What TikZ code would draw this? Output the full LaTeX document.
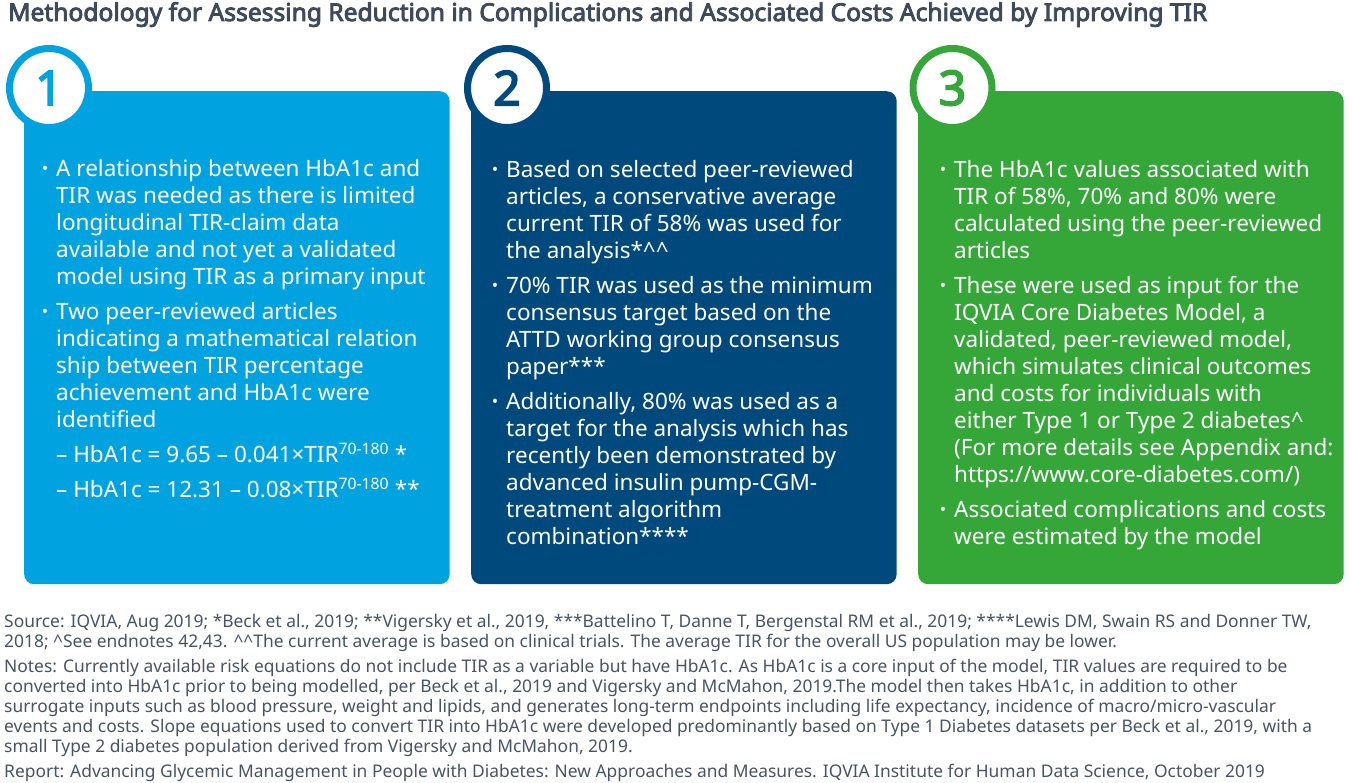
\documentclass[tikz,border=0pt]{standalone}
\usepackage{fontspec}
\setmainfont{Noto Sans}
\newfontfamily\heavyfont{Noto Sans}[FakeBold=3.5]
\usetikzlibrary{positioning}
\definecolor{tirblue}{RGB}{0,163,224}
\definecolor{tirnavy}{RGB}{0,73,124}
\definecolor{tirgreen}{RGB}{52,167,56}
\definecolor{titlegray}{RGB}{62,74,92}
\definecolor{notegray}{RGB}{72,84,102}
\newcommand{\bul}{\llap{\raisebox{2pt}{\fontsize{17}{17}\selectfont\textbullet}\hspace{8pt}}}

\begin{document}
\begin{tikzpicture}[x=1pt, y=-1pt,
  panelbox/.style={rounded corners=10pt, inner sep=0pt, anchor=north west, minimum width=425.5pt, minimum height=493pt},
  stepring/.style={circle, draw=#1, line width=7pt, fill=white, minimum size=79pt, inner sep=0pt, text=#1, font=\heavyfont\fontsize{48}{48}\selectfont},
  paneltext/.style={anchor=base west, align=left, inner sep=0pt, text=white, font=\fontsize{22.5}{27}\selectfont},
  foot/.style={anchor=base west, align=left, inner sep=0pt, text=notegray, font=\fontsize{17.4}{20}\selectfont}]
  \useasboundingbox (0,0) rectangle (1352,783);
  \fill[white] (0,0) rectangle (1352,783);

  % Title
  \node[anchor=base west, inner sep=0pt, text=titlegray, font=\heavyfont\fontsize{24.6}{24}\selectfont] (title) at (8,21) {Methodology for Assessing Reduction in Complications and Associated Costs Achieved by Improving TIR};

  % Three panels
  \node[panelbox, fill=tirblue] (p1) at (24,91) {};
  \node[panelbox, fill=tirnavy] (p2) at (471,91) {};
  \node[panelbox, fill=tirgreen] (p3) at (918,91) {};

  % Step numbers
  \node[stepring=tirblue] (n1) at (49,88) {1};
  \node[stepring=tirnavy] (n2) at (507,88) {2};
  \node[stepring=tirgreen] (n3) at (952.5,88) {3};

  % Panel 1 (anchored on its last line)
  \node[paneltext] (t1) at (56,497) {\bul A relationship between HbA1c and\\
    TIR was needed as there is limited\\
    longitudinal TIR-claim data\\
    available and not yet a validated\\
    model using TIR as a primary input\\[8pt]
    \bul Two peer-reviewed articles\\
    indicating a mathematical relation\\
    ship between TIR percentage\\
    achievement and HbA1c were\\
    identified\\[8pt]
    – HbA1c = 9.65 – 0.041×TIR\textsuperscript{70-180} *\\[7.5pt]
    – HbA1c = 12.31 – 0.08×TIR\textsuperscript{70-180} **};

  % Panel 2
  \node[paneltext] (t2) at (506,544) {\bul Based on selected peer-reviewed\\
    articles, a conservative average\\
    current TIR of 58\% was used for\\
    the analysis*\textasciicircum\textasciicircum\\[8pt]
    \bul 70\% TIR was used as the minimum\\
    consensus target based on the\\
    ATTD working group consensus\\
    paper***\\[8pt]
    \bul Additionally, 80\% was used as a\\
    target for the analysis which has\\
    recently been demonstrated by\\
    advanced insulin pump-CGM-\\
    treatment algorithm\\
    combination****};

  % Panel 3
  \node[paneltext] (t3) at (954,544) {\bul The HbA1c values associated with\\
    TIR of 58\%, 70\% and 80\% were\\
    calculated using the peer-reviewed\\
    articles\\[8pt]
    \bul These were used as input for the\\
    IQVIA Core Diabetes Model, a\\
    validated, peer-reviewed model,\\
    which simulates clinical outcomes\\
    and costs for individuals with\\
    either Type 1 or Type 2 diabetes\textasciicircum\\
    (For more details see Appendix and:\\
    https://www.core-diabetes.com/)\\[8pt]
    \bul Associated complications and costs\\
    were estimated by the model};

  % Sources, notes, report
  \node[foot] (src) at (4,647) {Source: IQVIA, Aug 2019; *Beck et al., 2019; **Vigersky et al., 2019, ***Battelino T, Danne T, Bergenstal RM et al., 2019; ****Lewis DM, Swain RS and Donner TW,\\
    2018; \textasciicircum See endnotes 42,43. \textasciicircum\textasciicircum The current average is based on clinical trials. The average TIR for the overall US population may be lower.};
  \node[foot] (notes) at (4,752) {Notes: Currently available risk equations do not include TIR as a variable but have HbA1c. As HbA1c is a core input of the model, TIR values are required to be\\
    converted into HbA1c prior to being modelled, per Beck et al., 2019 and Vigersky and McMahon, 2019.The model then takes HbA1c, in addition to other\\
    surrogate inputs such as blood pressure, weight and lipids, and generates long-term endpoints including life expectancy, incidence of macro/micro-vascular\\
    events and costs. Slope equations used to convert TIR into HbA1c were developed predominantly based on Type 1 Diabetes datasets per Beck et al., 2019, with a\\
    small Type 2 diabetes population derived from Vigersky and McMahon, 2019.};
  \node[foot] (report) at (4,777) {Report: Advancing Glycemic Management in People with Diabetes: New Approaches and Measures. IQVIA Institute for Human Data Science, October 2019};
\end{tikzpicture}
\end{document}
